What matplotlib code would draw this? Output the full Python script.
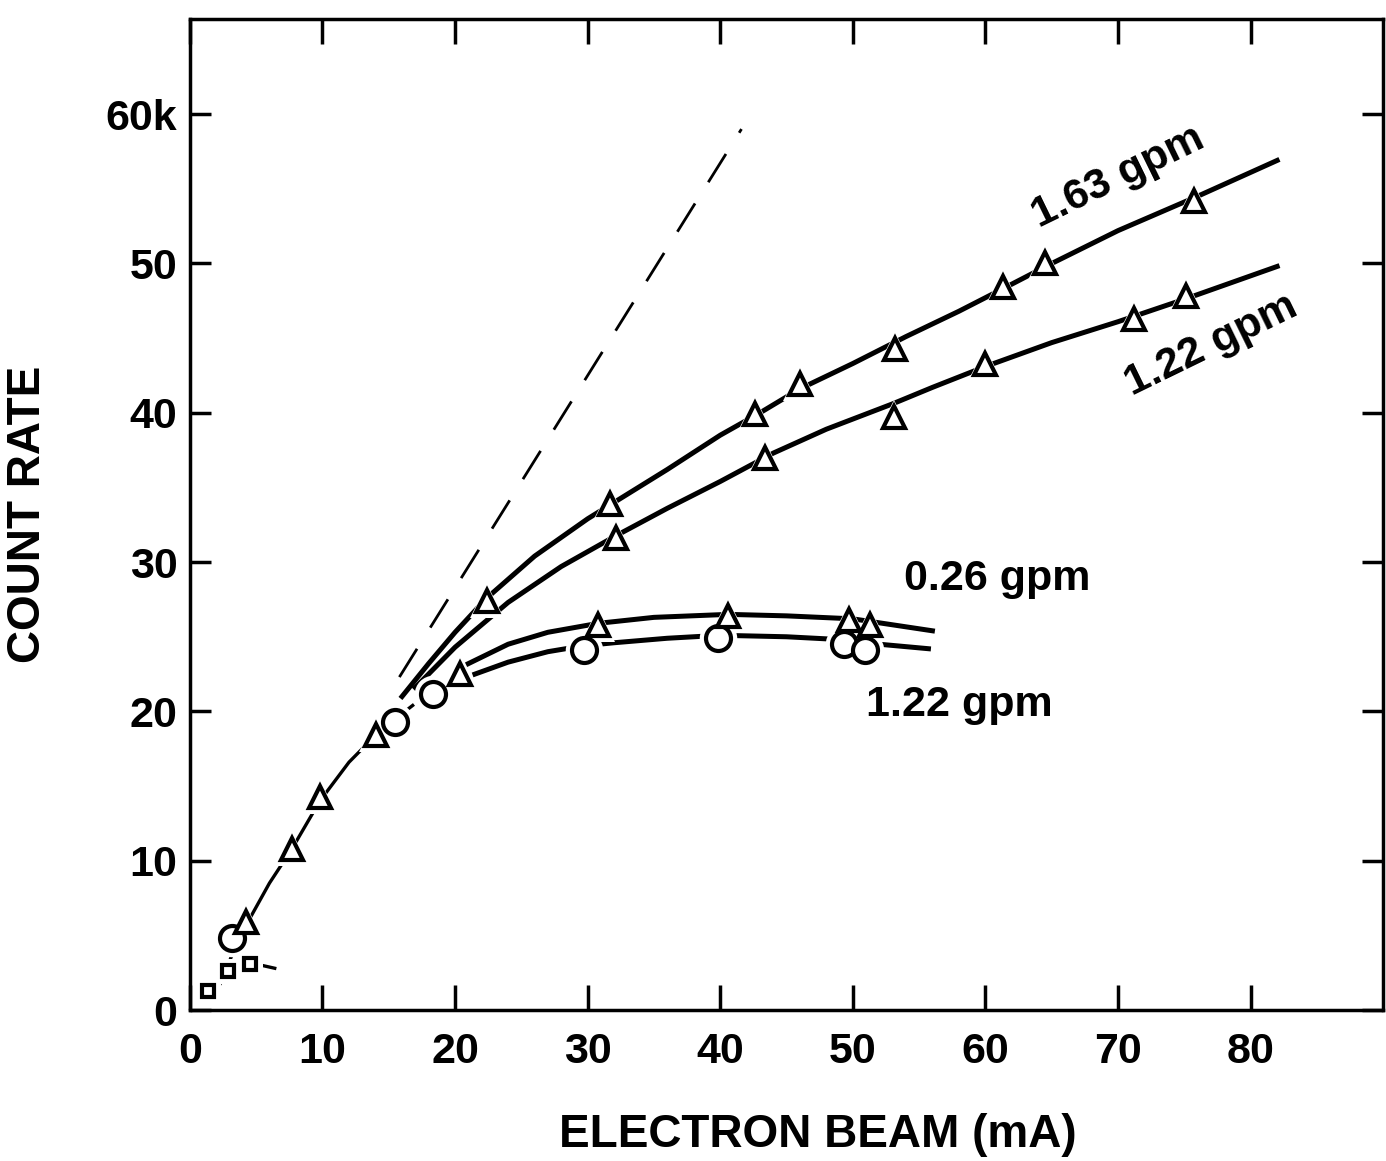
import matplotlib
matplotlib.use("Agg")
import matplotlib.pyplot as plt

plt.rcParams["font.family"] = ["Liberation Sans", "DejaVu Sans"]
plt.rcParams["font.weight"] = "bold"

# ── data (x = electron beam mA, y = count rate k) ────────────────────────────
# shared low-current section
common_curve_x = [2.3, 3.0, 3.6, 4.5, 6.0, 7.7, 9.8, 12.0, 14.0, 15.5, 16.8]
common_curve_y = [1.8, 3.3, 4.6, 6.1, 8.5, 10.8, 14.0, 16.6, 18.4, 19.5, 20.4]
common_tri_x = [4.2, 7.7, 9.8, 14.0, 20.4]
common_tri_y = [5.9, 10.8, 14.3, 18.4, 22.5]

square_x = [1.4, 2.9, 4.5]
square_y = [1.3, 2.6, 3.1]
square_tail_x = [5.4, 6.4]
square_tail_y = [3.0, 2.8]

# 1.63 gpm (triangles)
g163_x = [22.4, 31.7, 42.6, 46.0, 53.2, 61.3, 64.5, 75.7]
g163_y = [27.4, 33.9, 39.9, 41.9, 44.3, 48.4, 50.0, 54.2]
g163_curve_x = [16.0, 18.0, 20.0, 22.4, 26.0, 30.0, 32.0, 36.0, 40.0, 43.0,
                46.0, 50.0, 54.0, 58.0, 61.3, 65.0, 70.0, 76.0, 82.0]
g163_curve_y = [21.0, 23.2, 25.3, 27.6, 30.4, 32.9, 34.0, 36.2, 38.5, 40.0,
                41.6, 43.3, 45.1, 46.8, 48.3, 50.0, 52.2, 54.5, 56.9]

# 1.22 gpm upper (triangles)
g122u_x = [32.1, 43.4, 53.1, 60.0, 71.2, 75.1]
g122u_y = [31.6, 37.0, 39.7, 43.3, 46.3, 47.8]
g122u_curve_x = [17.0, 20.0, 24.0, 28.0, 32.0, 36.0, 40.0, 44.0, 48.0,
                 53.0, 56.0, 60.0, 65.0, 70.0, 75.0, 82.0]
g122u_curve_y = [21.6, 24.3, 27.3, 29.7, 31.7, 33.6, 35.4, 37.3, 38.9,
                 40.6, 41.7, 43.1, 44.7, 46.1, 47.6, 49.8]

# 0.26 gpm (triangles)
g026_x = [30.8, 40.6, 49.7, 51.3]
g026_y = [25.8, 26.4, 26.1, 25.8]
g026_curve_x = [21.0, 24.0, 27.0, 30.8, 35.0, 40.6, 45.0, 50.0, 53.0, 56.0]
g026_curve_y = [23.2, 24.5, 25.3, 25.9, 26.3, 26.5, 26.4, 26.2, 25.8, 25.4]

# 1.22 gpm lower (circles)
circ_x = [3.2, 15.5, 18.3, 29.7, 39.8, 49.3, 50.9]
circ_y = [4.8, 19.3, 21.2, 24.1, 24.9, 24.5, 24.1]
g122l_curve_x = [21.5, 24.0, 27.0, 29.7, 32.0, 36.0, 40.0, 45.0, 49.3, 52.0, 55.7]
g122l_curve_y = [22.5, 23.3, 24.0, 24.4, 24.6, 24.9, 25.1, 25.0, 24.8, 24.5, 24.2]

# dashed linear extrapolation
lin_x = [15.8, 41.6]
lin_y = [22.3, 59.0]

xticks = [0, 10, 20, 30, 40, 50, 60, 70, 80]
yticks = [0, 10, 20, 30, 40, 50, 60]
ytick_labels = ["0", "10", "20", "30", "40", "50", "60k"]

# ── figure ───────────────────────────────────────────────────────────────────
fig = plt.figure(figsize=(13.86, 11.61), dpi=100)
ax = fig.add_axes([0.137, 0.130, 0.861, 0.854])

LW = 3.6
ax.plot(common_curve_x, common_curve_y, color="black", lw=2.4, zorder=2)
ax.plot(square_tail_x, square_tail_y, color="black", lw=2.4, zorder=2)
ax.plot(g163_curve_x, g163_curve_y, color="black", lw=LW, zorder=2)
ax.plot(g122u_curve_x, g122u_curve_y, color="black", lw=LW, zorder=2)
ax.plot(g026_curve_x, g026_curve_y, color="black", lw=LW, zorder=2)
ax.plot(g122l_curve_x, g122l_curve_y, color="black", lw=LW, zorder=2)
ax.plot(lin_x, lin_y, color="black", lw=2.0, ls=(0, (12, 9)), zorder=2)


def marks(xs, ys, marker, ms):
    # white halo gives the broken-line look around each symbol
    ax.plot(xs, ys, ls="none", marker=marker, ms=ms + 9, mfc="white",
            mec="white", mew=0, zorder=3)
    ax.plot(xs, ys, ls="none", marker=marker, ms=ms, mfc="white",
            mec="black", mew=3.0, zorder=4)


tri_x = common_tri_x + g163_x + g122u_x + g026_x
tri_y = common_tri_y + g163_y + g122u_y + g026_y
marks(circ_x, circ_y, "o", 18)
marks(tri_x, tri_y, "^", 16)
marks(square_x, square_y, "s", 9)

ax.set_xlim(0, 90)
ax.set_ylim(0, 66.4)
ax.set_xticks(xticks)
ax.set_xticklabels([str(v) for v in xticks])
ax.set_yticks(yticks)
ax.set_yticklabels(ytick_labels)
ax.tick_params(axis="x", direction="in", length=18, width=2.5, pad=16,
               labelsize=31, top=True)
ax.tick_params(axis="y", direction="in", length=15, width=2.5, pad=9,
               labelsize=31, right=True)
for s in ax.spines.values():
    s.set_linewidth(2.5)

ax.set_xlabel("ELECTRON BEAM (mA)", fontsize=33, fontweight="bold",
              labelpad=29, x=0.526)
ax.set_ylabel("COUNT RATE", fontsize=33, fontweight="bold", labelpad=40)

FS = 31
ax.text(70.0, 55.8, "1.63 gpm", fontsize=FS, fontweight="bold",
        rotation=26, ha="center", va="center")
ax.text(77.0, 44.5, "1.22 gpm", fontsize=FS, fontweight="bold",
        rotation=26, ha="center", va="center")
ax.text(60.9, 28.9, "0.26 gpm", fontsize=FS, fontweight="bold",
        ha="center", va="center")
ax.text(58.0, 20.4, "1.22 gpm", fontsize=FS, fontweight="bold",
        ha="center", va="center")

fig.savefig("out.png", dpi=100)
